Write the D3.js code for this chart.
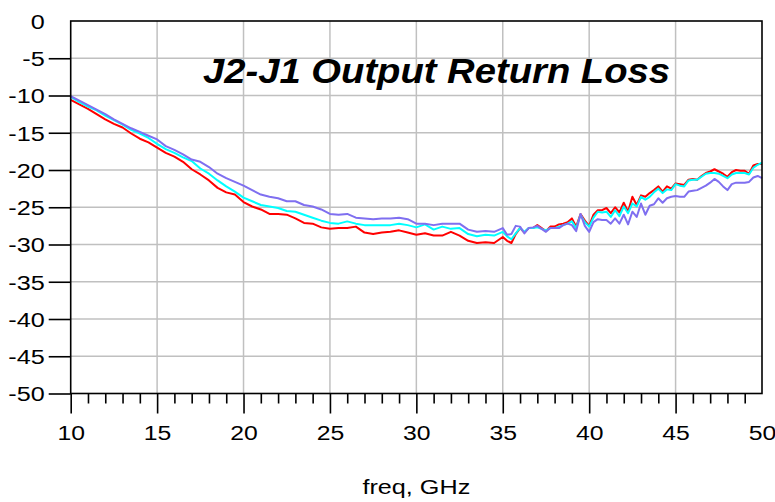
<!DOCTYPE html>
<html lang="en">
<head>
<meta charset="UTF-8">
<title>J2-J1 Output Return Loss</title>
<script src="https://d3js.org/d3.v7.min.js"></script>
<style>
    body { margin: 0; background: #fff; }
    svg { display: block; }
    text { font-family: "Liberation Sans", Arial, Helvetica, sans-serif; fill: #000; }
    .grid line { stroke: #c0c0c0; stroke-width: 1.5; }
    .axis line { stroke: #000; stroke-width: 1.6; }
    .axis path { display: none; }
    .trace { fill: none; stroke-width: 2; stroke-linejoin: round; }
</style>
</head>
<body>
<svg id="chart" width="775" height="502"></svg>
<script>
    // sweep points, GHz (0.5 GHz to 35, then 0.25 GHz)
    const freq = [
        10, 10.5, 11, 11.5, 12, 12.5, 13, 13.5, 14, 14.5,
        15, 15.5, 16, 16.5, 17, 17.5, 18, 18.5, 19, 19.5,
        20, 20.5, 21, 21.5, 22, 22.5, 23, 23.5, 24, 24.5,
        25, 25.5, 26, 26.5, 27, 27.5, 28, 28.5, 29, 29.5,
        30, 30.5, 31, 31.5, 32, 32.5, 33, 33.5, 34, 34.5, 35,
        35.25, 35.5, 35.75, 36, 36.25, 36.5, 36.75, 37, 37.25, 37.5, 37.75,
        38, 38.25, 38.5, 38.75, 39, 39.25, 39.5, 39.75, 40, 40.25, 40.5, 40.75,
        41, 41.25, 41.5, 41.75, 42, 42.25, 42.5, 42.75, 43, 43.25, 43.5, 43.75,
        44, 44.25, 44.5, 44.75, 45, 45.25, 45.5, 45.75, 46, 46.25, 46.5, 46.75,
        47, 47.25, 47.5, 47.75, 48, 48.25, 48.5, 48.75, 49, 49.25, 49.5, 49.75, 50
    ];

    const redDb = [
        -10.6, -11.2, -11.8, -12.5, -13.2, -13.8, -14.3, -15.1, -15.8, -16.3,
        -17.0, -17.7, -18.2, -18.9, -19.9, -20.6, -21.4, -22.4, -23.0, -23.3,
        -24.3, -24.9, -25.3, -25.9, -25.9, -26.0, -26.5, -27.1, -27.2, -27.7,
        -27.9, -27.8, -27.8, -27.6, -28.4, -28.6, -28.4, -28.3, -28.1, -28.4,
        -28.7, -28.5, -28.8, -28.8, -28.3, -28.8, -29.5, -29.8, -29.7, -29.8, -29.0,
        -29.5, -29.8, -28.6, -27.8, -28.4, -27.8, -27.8, -27.4, -27.8, -28.2, -27.6,
        -27.6, -27.3, -27.2, -27.0, -26.5, -27.6, -25.9, -26.8, -27.5, -26.0, -25.4, -25.4,
        -25.1, -25.8, -25.0, -25.7, -24.4, -25.6, -23.6, -24.7, -23.4, -23.6, -23.1, -22.7,
        -22.2, -22.9, -22.2, -22.5, -21.8, -21.9, -22.0, -21.3, -21.2, -21.3, -20.8, -20.4,
        -20.2, -19.9, -20.2, -20.5, -20.9, -20.3, -20.0, -20.1, -20.1, -20.5, -19.4, -19.2, -19.2
    ];

    const cyanDb = [
        -10.2, -10.9, -11.5, -12.0, -12.7, -13.3, -13.9, -14.6, -15.1, -15.7,
        -16.5, -17.2, -17.7, -18.3, -18.8, -19.8, -20.5, -21.4, -22.2, -22.9,
        -23.7, -24.2, -24.7, -24.9, -25.1, -25.5, -25.6, -26.0, -26.4, -26.8,
        -27.1, -27.2, -26.9, -27.2, -27.4, -27.4, -27.4, -27.4, -27.2, -27.4,
        -27.7, -27.3, -28.0, -27.6, -27.9, -27.8, -28.6, -28.9, -28.7, -28.8, -28.3,
        -28.9, -29.3, -28.5, -27.8, -28.3, -27.8, -27.8, -27.7, -27.9, -28.1, -27.8,
        -27.8, -27.6, -27.4, -27.2, -26.9, -27.8, -26.0, -27.0, -27.6, -26.4, -25.6, -25.7,
        -25.6, -26.3, -25.4, -26.2, -24.9, -25.8, -24.5, -24.9, -23.6, -24.0, -23.6, -23.0,
        -22.5, -23.1, -22.6, -22.7, -21.9, -22.1, -22.2, -21.4, -21.3, -21.3, -20.9, -20.5,
        -20.4, -20.4, -20.5, -20.8, -21.1, -20.6, -20.4, -20.4, -20.4, -20.6, -19.7, -19.3, -19.0
    ];

    const purpleDb = [
        -10.1, -10.7, -11.3, -11.9, -12.5, -13.2, -13.8, -14.4, -14.9, -15.4,
        -15.9, -16.8, -17.3, -17.9, -18.6, -18.9, -19.6, -20.5, -21.1, -21.6,
        -22.1, -22.7, -23.3, -23.6, -23.8, -24.2, -24.2, -24.7, -24.9, -25.3,
        -25.9, -26.0, -25.9, -26.4, -26.5, -26.6, -26.5, -26.5, -26.4, -26.6,
        -27.2, -27.2, -27.4, -27.2, -27.2, -27.2, -28.0, -28.3, -28.2, -28.3, -27.8,
        -28.7, -28.6, -27.5, -27.6, -28.5, -27.8, -27.7, -27.5, -27.9, -28.3, -27.8,
        -27.8, -27.8, -27.4, -27.2, -27.4, -28.2, -25.9, -27.5, -28.3, -27.0, -26.6, -26.7,
        -26.7, -27.2, -26.5, -27.2, -26.0, -27.3, -25.6, -26.3, -24.5, -26.0, -24.8, -24.6,
        -23.8, -24.4, -23.8, -23.6, -23.5, -23.6, -23.6, -22.9, -22.8, -22.7, -22.4, -22.1,
        -21.7, -21.2, -21.6, -22.2, -22.7, -21.9, -21.7, -21.7, -21.7, -21.6, -21.0, -20.8, -21.1
    ];

    const xMajor = [10, 15, 20, 25, 30, 35, 40, 45, 50];
    const xMinor = [11, 12, 13, 14, 16, 17, 18, 19, 21, 22, 23, 24, 26, 27, 28, 29,
                    31, 32, 33, 34, 36, 37, 38, 39, 41, 42, 43, 44, 46, 47, 48, 49];
    const yMajor = [0, -5, -10, -15, -20, -25, -30, -35, -40, -45, -50];

    const series = [
        { name: "red", color: "#ff0000", values: redDb },
        { name: "cyan", color: "#00ffff", values: cyanDb },
        { name: "purple", color: "#7f6ff0", values: purpleDb }
    ];

    const plotL = 70.7, plotR = 762, plotT = 21, plotB = 393.5;
    const svg = d3.select("#chart");

    const x = d3.scaleLinear().domain([10, 50]).range([plotL, plotR]);
    const y = d3.scaleLinear().domain([-50, 0]).range([plotB, plotT]);

    // plain hyphen minus, as in the original plot
    const fmt = d => String(d);

    // grid
    const grid = svg.append("g").attr("class", "grid");
    grid.selectAll(".gx")
        .data(xMajor.filter(d => d > 10 && d < 50))
        .join("line")
        .attr("x1", d => x(d)).attr("x2", d => x(d))
        .attr("y1", plotT).attr("y2", plotB);
    grid.selectAll(".gy")
        .data(yMajor.filter(d => d < 0 && d > -50))
        .join("line")
        .attr("x1", plotL).attr("x2", plotR)
        .attr("y1", d => y(d)).attr("y2", d => y(d));

    // traces
    const line = d3.line()
        .x((d, i) => x(freq[i]))
        .y(d => y(d));

    svg.append("g")
        .selectAll("path")
        .data(series)
        .join("path")
        .attr("class", "trace")
        .attr("stroke", d => d.color)
        .attr("d", d => line(d.values));

    // frame
    svg.append("rect")
        .attr("x", plotL).attr("y", plotT)
        .attr("width", plotR - plotL).attr("height", plotB - plotT)
        .attr("fill", "none").attr("stroke", "#000").attr("stroke-width", 1.6);

    // x axis: minor ticks, then major ticks with labels
    svg.append("g")
        .attr("class", "axis")
        .attr("transform", `translate(0,${plotB})`)
        .call(d3.axisBottom(x).tickValues(xMinor).tickSize(10).tickFormat(""));

    const xAxis = svg.append("g")
        .attr("class", "axis")
        .attr("transform", `translate(0,${plotB})`)
        .call(d3.axisBottom(x).tickValues(xMajor).tickSize(20).tickFormat(fmt));
    xAxis.selectAll(".tick").filter(d => d === 50).select("line").remove();
    xAxis.selectAll("text")
        .attr("y", 46.5).attr("dy", 0)
        .attr("font-size", 21)
        .attr("transform", "scale(1.18,1)")
        .attr("x", 0);

    const yAxis = svg.append("g")
        .attr("class", "axis")
        .attr("transform", `translate(${plotL},0)`)
        .call(d3.axisLeft(y).tickValues(yMajor).tickSize(22).tickFormat(fmt));
    yAxis.selectAll(".tick").filter(d => d === 0).select("line").remove();
    yAxis.selectAll("text")
        .attr("x", -26 / 1.2).attr("dy", "0.35em")
        .attr("font-size", 21)
        .attr("transform", "scale(1.2,1)");

    // title and axis label
    svg.append("text")
        .attr("x", 203).attr("y", 83)
        .attr("font-size", 35)
        .attr("font-weight", "bold")
        .attr("font-style", "italic")
        .attr("textLength", 467)
        .attr("lengthAdjust", "spacingAndGlyphs")
        .text("J2-J1 Output Return Loss");

    const cx = (plotL + plotR) / 2;
    svg.append("text")
        .attr("x", cx).attr("y", 494)
        .attr("text-anchor", "middle")
        .attr("font-size", 21)
        .attr("transform", `translate(${cx},0) scale(1.2,1) translate(${-cx},0)`)
        .text("freq, GHz");
</script>
</body>
</html>
